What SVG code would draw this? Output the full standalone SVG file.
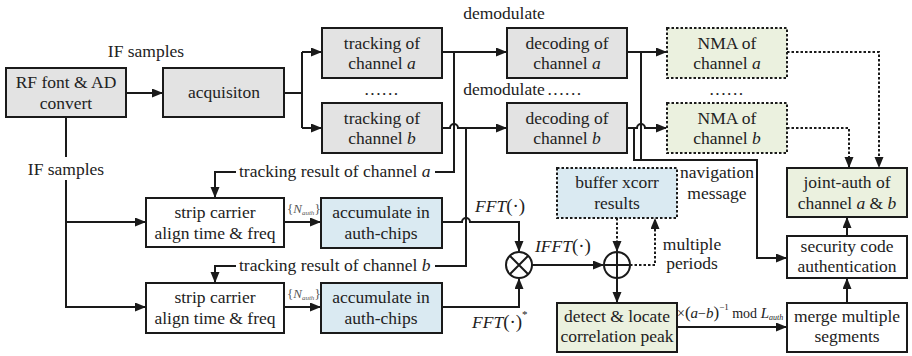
<svg xmlns="http://www.w3.org/2000/svg" width="912" height="356" viewBox="0 0 912 356" font-family="'Liberation Serif', 'DejaVu Serif', serif">
<style>
text{font-family:"Liberation Serif","DejaVu Serif",serif}
.t{font-size:17.5px;fill:#222;text-anchor:middle}
.s{text-anchor:start}
.i{font-style:italic}
.box{stroke:#1a1a1a;stroke-width:2}
.g{fill:#e3e3e3}
.b{fill:#daeaf2}
.gr{fill:#ebf1df}
.w{fill:#fff}
.dot{stroke-dasharray:2.5 2}
.ln{fill:none;stroke:#1a1a1a;stroke-width:2}
.dl{fill:none;stroke:#1a1a1a;stroke-width:2;stroke-dasharray:2.5 2}
.a{marker-end:url(#ah)}
.sm{fill:#555}
</style>
<defs>
<marker id="ah" markerUnits="userSpaceOnUse" markerWidth="11" markerHeight="10" refX="10" refY="4.5" orient="auto">
<path d="M0,0 L11,4.5 L0,9 z" fill="#1a1a1a"/>
</marker>
</defs>
<rect width="912" height="356" fill="#fff"/>

<g id="connectors">
<path class="ln a" d="M126 93 H162"/>
<path class="ln" d="M284 93 H302 M302 52 V128"/>
<path class="ln a" d="M302 52 H321"/>
<path class="ln a" d="M302 128 H321"/>
<path class="ln a" d="M442 52 H506"/>
<path class="ln a" d="M442 128 H450 a4 4 0 0 1 8 0 H506"/>
<path class="ln a" d="M627 52 H666"/>
<path class="ln a" d="M627 128 H637 a4 4 0 0 1 8 0 H666"/>
<path class="ln" d="M641 52 V160"/>
<path class="ln a" d="M634 128 V160 H757 V258 H786"/>
<path class="ln" d="M454 52 V172 H435"/>
<path class="ln a" d="M236 172 H215 V197"/>
<path class="ln" d="M466 128 V266 H435"/>
<path class="ln a" d="M236 266 H215 V282"/>
<path class="ln" d="M66 117 V157"/>
<path class="ln a" d="M66 180 V307 H145"/>
<path class="ln a" d="M66 222 H145"/>
<path class="ln a" d="M284 222 H320"/>
<path class="ln a" d="M284 307 H320"/>
<path class="ln a" d="M442 222 H462 a4 4 0 0 1 8 0 H519 V251"/>
<path class="ln a" d="M442 307 H519 V279"/>
<path class="ln a" d="M532 265 H603"/>
<path class="dl a" d="M617 218 V251"/>
<path class="dl a" d="M630 265 H655 V219"/>
<path class="ln a" d="M617 278 V302"/>
<path class="ln a" d="M677 327 H786"/>
<path class="ln a" d="M847 303 V279"/>
<path class="ln a" d="M847 236 V218"/>
<path class="dl a" d="M787 52 H879 V167"/>
<path class="dl a" d="M787 128 H849 V167"/>
</g>

<g id="rf">
<rect class="box g" x="6" y="68" width="120" height="49"/>
<text class="t" x="66" y="88">RF font &amp; AD</text>
<text class="t" x="66" y="109">convert</text>
</g>
<g id="acq">
<rect class="box g" x="163" y="68" width="121" height="49"/>
<text class="t" x="224" y="98">acquisiton</text>
</g>
<g id="track-a">
<rect class="box g" x="322" y="28" width="120" height="50"/>
<text class="t" x="382" y="49">tracking of</text>
<text class="t" x="382" y="69">channel <tspan class="i">a</tspan></text>
</g>
<g id="track-b">
<rect class="box g" x="322" y="103" width="120" height="50"/>
<text class="t" x="382" y="124">tracking of</text>
<text class="t" x="382" y="144">channel <tspan class="i">b</tspan></text>
</g>
<g id="dec-a">
<rect class="box g" x="507" y="28" width="120" height="50"/>
<text class="t" x="567" y="49">decoding of</text>
<text class="t" x="567" y="69">channel <tspan class="i">a</tspan></text>
</g>
<g id="dec-b">
<rect class="box g" x="507" y="103" width="120" height="50"/>
<text class="t" x="567" y="124">decoding of</text>
<text class="t" x="567" y="144">channel <tspan class="i">b</tspan></text>
</g>
<g id="nma-a">
<rect class="box gr dot" x="667" y="28" width="120" height="50"/>
<text class="t" x="727" y="49">NMA of</text>
<text class="t" x="727" y="69">channel <tspan class="i">a</tspan></text>
</g>
<g id="nma-b">
<rect class="box gr dot" x="667" y="103" width="120" height="50"/>
<text class="t" x="727" y="124">NMA of</text>
<text class="t" x="727" y="144">channel <tspan class="i">b</tspan></text>
</g>
<g id="joint">
<rect class="box gr" x="787" y="168" width="120" height="49"/>
<text class="t" x="847" y="188">joint-auth of</text>
<text class="t" x="847" y="209">channel <tspan class="i">a</tspan> &amp; <tspan class="i">b</tspan></text>
</g>
<g id="security">
<rect class="box w" x="787" y="236" width="120" height="42"/>
<text class="t" x="847" y="252">security code</text>
<text class="t" x="847" y="272">authentication</text>
</g>
<g id="merge">
<rect class="box w" x="787" y="303" width="120" height="49"/>
<text class="t" x="847" y="322">merge multiple</text>
<text class="t" x="847" y="342">segments</text>
</g>
<g id="buffer">
<rect class="box b dot" x="557" y="168" width="120" height="50"/>
<text class="t" x="617" y="188">buffer xcorr</text>
<text class="t" x="617" y="209">results</text>
</g>
<g id="detect">
<rect class="box gr" x="557" y="303" width="120" height="49"/>
<text class="t" x="617" y="322">detect &amp; locate</text>
<text class="t" x="617" y="342">correlation peak</text>
</g>
<g id="strip-a">
<rect class="box w" x="146" y="198" width="138" height="49"/>
<text class="t" x="215" y="218">strip carrier</text>
<text class="t" x="215" y="239">align time &amp; freq</text>
</g>
<g id="strip-b">
<rect class="box w" x="146" y="283" width="138" height="50"/>
<text class="t" x="215" y="303">strip carrier</text>
<text class="t" x="215" y="324">align time &amp; freq</text>
</g>
<g id="acc-a">
<rect class="box b" x="321" y="198" width="121" height="50"/>
<text class="t" x="381" y="218">accumulate in</text>
<text class="t" x="381" y="239">auth-chips</text>
</g>
<g id="acc-b">
<rect class="box b" x="321" y="283" width="121" height="50"/>
<text class="t" x="381" y="303">accumulate in</text>
<text class="t" x="381" y="324">auth-chips</text>
</g>
<g id="mult">
<circle cx="519" cy="265" r="13" fill="#fff" stroke="#1a1a1a" stroke-width="2"/>
<path d="M509.8 255.8 L528.2 274.2 M528.2 255.8 L509.8 274.2" stroke="#1a1a1a" stroke-width="2"/>
</g>
<g id="sum">
<circle cx="617" cy="265" r="13" fill="#fff" stroke="#1a1a1a" stroke-width="2"/>
<path d="M604 265 H630 M617 252 V278" stroke="#1a1a1a" stroke-width="2"/>
</g>

<g id="labels">
<text class="t" x="146" y="57">IF samples</text>
<text class="t" x="66" y="175">IF samples</text>
<text class="t" x="504" y="19">demodulate</text>
<text class="t" x="504" y="95">demodulate</text>
<text class="t" x="565" y="95" letter-spacing="1.5">......</text>
<text class="t" x="382" y="95" letter-spacing="1.5">......</text>
<text class="t" x="727" y="95" letter-spacing="1.5">......</text>
<text class="t s" x="239" y="177">tracking result of channel <tspan class="i">a</tspan></text>
<text class="t s" x="239" y="271">tracking result of channel <tspan class="i">b</tspan></text>
<text class="t" x="717" y="178">navigation</text>
<text class="t" x="717" y="199">message</text>
<text class="t" x="692" y="250">multiple</text>
<text class="t" x="692" y="269">periods</text>
<text class="t s" x="475" y="212"><tspan class="i">FFT</tspan><tspan font-size="19">(·)</tspan></text>
<text class="t s" x="472" y="328"><tspan class="i">FFT</tspan><tspan font-size="19">(·)</tspan><tspan font-size="11" dy="-10">*</tspan></text>
<text class="t s" x="535" y="252"><tspan class="i">IFFT</tspan><tspan font-size="19">(·)</tspan></text>
<text class="sm" x="287" y="213" font-size="13">{<tspan font-style="italic">N</tspan><tspan font-style="italic" font-size="7" dy="2">auth</tspan><tspan dy="-2">}</tspan></text>
<text class="sm" x="287" y="298" font-size="13">{<tspan font-style="italic">N</tspan><tspan font-style="italic" font-size="7" dy="2">auth</tspan><tspan dy="-2">}</tspan></text>
<text x="677" y="318" font-size="14" fill="#222">×<tspan font-size="17">(</tspan><tspan font-style="italic" font-size="15">a</tspan>−<tspan font-style="italic" font-size="15">b</tspan><tspan font-size="17">)</tspan><tspan font-size="9" dy="-8">−1</tspan><tspan dy="8"> mod </tspan><tspan font-style="italic" font-size="15">L</tspan><tspan font-style="italic" font-size="8" dy="2">auth</tspan></text>
</g>
</svg>
